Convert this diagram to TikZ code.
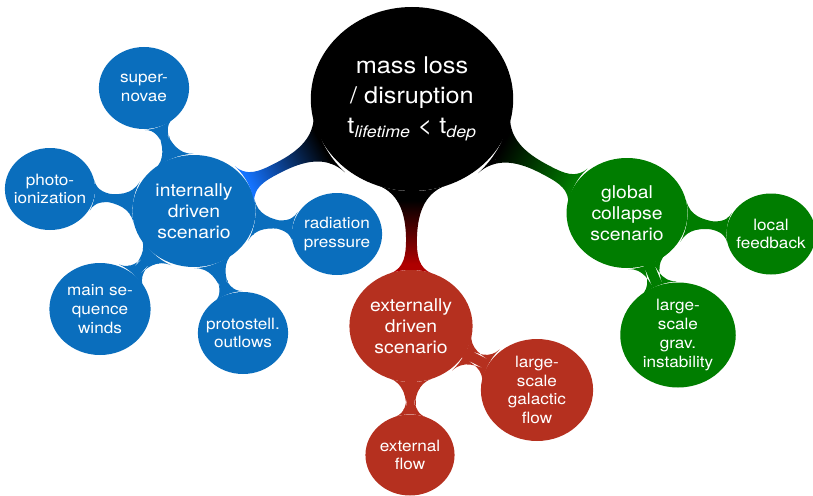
\documentclass[tikz,border=0pt]{standalone}
\usepackage{fontspec}
\setmainfont{TeX Gyre Heros}
\usetikzlibrary{mindmap}
\definecolor{intblue}{RGB}{10,110,189}
\definecolor{barblue}{RGB}{20,115,255}
\definecolor{extred}{RGB}{181,48,31}
\definecolor{barred}{RGB}{175,0,0}
\definecolor{colgreen}{RGB}{0,125,0}
\begin{document}
\begin{tikzpicture}[
  bubble/.style={circle, fill=#1, text=white, align=center, inner sep=0pt},
  rootfont/.style={font=\fontsize{23}{30}\selectfont},
  midfont/.style={font=\fontsize{17.6}{21}\selectfont},
  leaffont/.style={font=\fontsize{15.6}{18.8}\selectfont},
  mainbar/.style={line width=12pt},
  leafbar/.style={line width=8pt},
]
\useasboundingbox (0,0) rectangle (813pt,-495pt);
\begin{scope}[xscale=1.1, transform shape, x=0.90909pt, y=-1pt]
  % central concept
  \node[bubble=black, minimum size=184pt, rootfont] (root) at (412,99)
    {mass loss\\/ disruption\\t\textsubscript{\itshape lifetime} < t\textsubscript{\itshape dep}};
  % three scenarios
  \node[bubble=intblue, minimum size=112pt, midfont] (int) at (194,211) {internally\\driven\\scenario};
  \node[bubble=extred, minimum size=112pt, midfont] (ext) at (411,326) {externally\\driven\\scenario};
  \node[bubble=colgreen, minimum size=110pt, midfont] (glo) at (627,213) {global\\collapse\\scenario};
  % internal mechanisms
  \node[bubble=intblue, minimum size=82pt, leaffont] (sn) at (144,88) {super-\\novae};
  \node[bubble=intblue, minimum size=82pt, leaffont] (ph) at (50,189) {photo-\\ionization};
  \node[bubble=intblue, minimum size=82pt, leaffont] (rp) at (337,234) {radiation\\pressure};
  \node[bubble=intblue, minimum size=92pt, leaffont] (ms) at (100,309) {main se-\\quence\\winds};
  \node[bubble=intblue, minimum size=82pt, leaffont] (ps) at (243,333) {protostell.\\outlows};
  % external mechanisms
  \node[bubble=extred, minimum size=102pt, leaffont] (gal) at (537,390) {large-\\scale\\galactic\\flow};
  \node[bubble=extred, minimum size=81pt, leaffont] (ef) at (410,455) {external\\flow};
  % collapse mechanisms
  \node[bubble=colgreen, minimum size=81pt, leaffont] (lf) at (771,234) {local\\feedback};
  \node[bubble=colgreen, minimum size=105pt, leaffont] (gi) at (678,335) {large-\\scale\\grav.\\instability};

  % connections from the central concept
  \path[mainbar] (root) to[circle connection bar switch color=from (black) to (barblue)] (int);
  \path[mainbar] (root) to[circle connection bar switch color=from (black) to (barred)] (ext);
  \path[mainbar] (root) to[circle connection bar switch color=from (black) to (colgreen)] (glo);
  % connections to the mechanisms
  \foreach \leaf in {sn,ph,rp,ms,ps}
    \path[leafbar] (int) to[circle connection bar switch color=from (intblue) to (intblue)] (\leaf);
  \foreach \leaf in {gal,ef}
    \path[leafbar] (ext) to[circle connection bar switch color=from (extred) to (extred)] (\leaf);
  \foreach \leaf in {lf,gi}
    \path[leafbar] (glo) to[circle connection bar switch color=from (colgreen) to (colgreen)] (\leaf);
\end{scope}
\end{tikzpicture}
\end{document}
